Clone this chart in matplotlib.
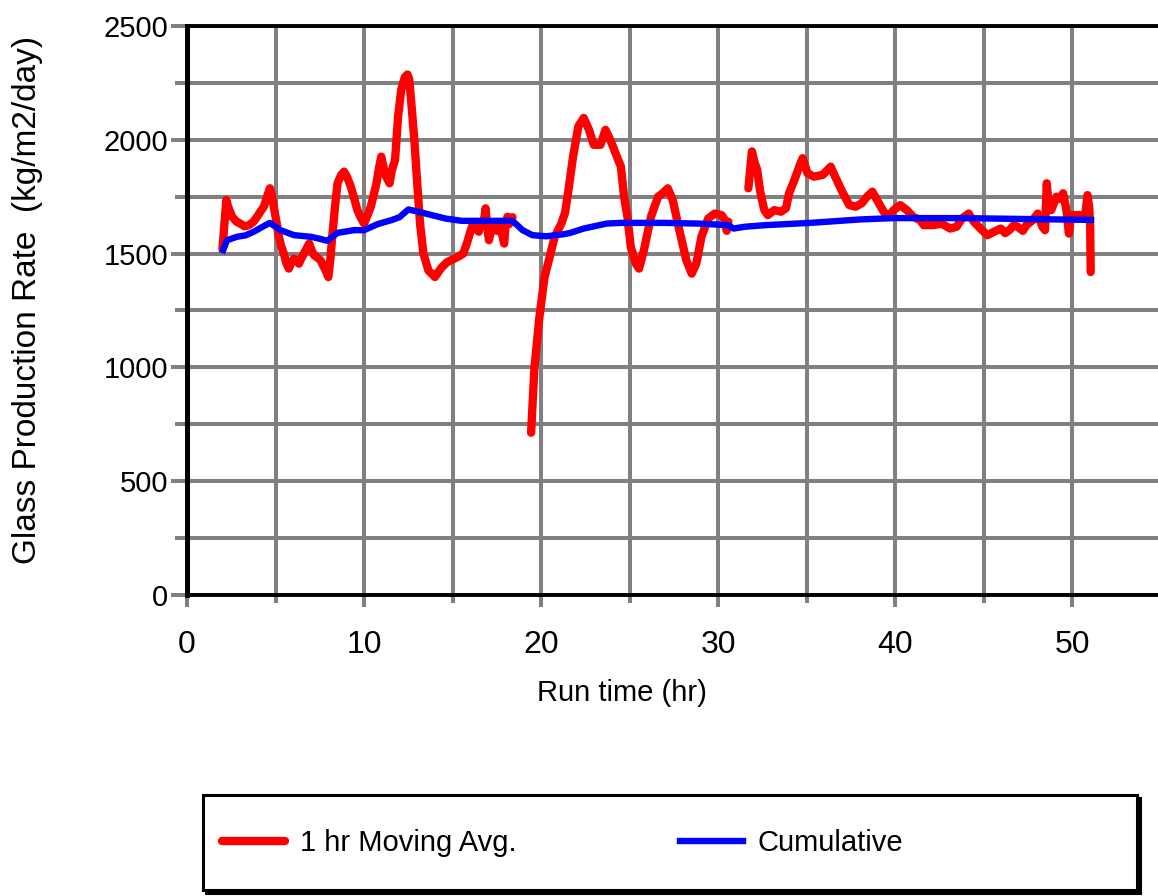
import numpy as np
import matplotlib
matplotlib.use("Agg")
import matplotlib.pyplot as plt
from matplotlib.patches import Rectangle
from matplotlib.ticker import MultipleLocator

plt.rcParams['font.family'] = ['Liberation Sans', 'DejaVu Sans']

# 1 hr moving average of glass production rate (NaN marks data gaps)
avg_time = [
    2.00, 2.08, 2.22, 2.35, 2.55, 2.8, 3.0, 3.25, 3.5, 3.75, 3.96, 4.15, 4.34, 4.5,
    4.68, 4.8, 4.9, 5.05, 5.19, 5.33, 5.47, 5.6, 5.75, 5.9, 6.04, 6.18, 6.32, 6.45,
    6.6, 6.75, 6.9, 7.05, 7.17, 7.35, 7.55, 7.7, 7.83, 7.98, 8.1, 8.2, 8.35, 8.5,
    8.7, 8.87, 9.05, 9.25, 9.45, 9.62, 9.8, 10.0, 10.2, 10.38, 10.55, 10.7, 10.85,
    10.97, 11.1, 11.16, 11.3, 11.44, 11.55, 11.63, 11.75, 11.92, 12.1, 12.3, 12.45,
    12.55, 12.7, 12.85, 13.0, 13.16, 13.35, 13.63, 14.0, 14.2, 14.4, 14.7, 15.1,
    15.4, 15.6, 15.8, 16.0, 16.15, 16.3, 16.48, 16.6, 16.67, 16.8, 16.86, 16.95,
    17.05, 17.2, 17.34, 17.5, 17.62, 17.75, 17.91, 18.0, 18.1, 18.2, 18.29, 18.38,
    18.9,
    19.43, 19.62, 19.9, 20.19, 20.48, 20.76, 21.14, 21.35, 21.54, 21.8, 22.1, 22.4,
    22.7, 22.97, 23.35, 23.63, 23.9, 24.2, 24.5, 24.68, 24.87, 25.06, 25.34, 25.53,
    25.8, 26.2, 26.6, 26.86, 27.15, 27.43, 27.8, 28.2, 28.5, 28.76, 29.05, 29.43,
    29.8, 30.19, 30.35, 30.48, 30.57,
    31.1,
    31.7, 31.9, 32.05, 32.2, 32.35, 32.47, 32.6, 32.8, 33.16, 33.54, 33.82, 34.0,
    34.3, 34.57, 34.76, 35.04, 35.4, 35.9, 36.35, 36.6, 37.0, 37.4, 37.75, 38.1,
    38.4, 38.7, 38.97, 39.34, 39.6, 39.9, 40.28, 40.65, 41.0, 41.4, 41.6, 42.15,
    42.6, 43.1, 43.46, 43.76, 44.14, 44.43, 44.8, 45.2, 45.57, 45.95, 46.2, 46.43,
    46.7, 46.9, 47.2, 47.4, 47.76, 48.04, 48.3, 48.45, 48.55, 48.65, 48.8, 49.1,
    49.3, 49.47, 49.66, 49.8, 49.9, 50.04, 50.4, 50.7, 50.85, 50.95, 51.0, 51.03,
]
avg_rate = [
    1520, 1600, 1735, 1700, 1662, 1640, 1632, 1620, 1625, 1640, 1662, 1685, 1706, 1745,
    1787, 1755, 1706, 1640, 1574, 1530, 1500, 1460, 1434, 1462, 1478, 1468, 1456, 1478,
    1500, 1522, 1544, 1512, 1493, 1483, 1470, 1445, 1426, 1397, 1480, 1574, 1700, 1809,
    1845, 1860, 1835, 1794, 1740, 1691, 1660, 1632, 1670, 1706, 1760, 1809, 1880,
    1926, 1880, 1853, 1830, 1809, 1860, 1882, 1912, 2103, 2221, 2275, 2287,
    2265, 2132, 1985, 1809, 1632, 1500, 1426, 1397, 1420, 1441, 1463, 1478,
    1490, 1500, 1544, 1596, 1632, 1610, 1596, 1640, 1632, 1660, 1699, 1620,
    1559, 1610, 1618, 1600, 1632, 1600, 1544, 1640, 1662, 1630, 1647, 1660,
    np.nan,
    713, 1000, 1221, 1397, 1485, 1574, 1632, 1680, 1779, 1926, 2059, 2096,
    2044, 1978, 1978, 2044, 2000, 1941, 1882, 1750, 1662, 1529, 1456, 1434,
    1515, 1662, 1750, 1765, 1787, 1735, 1603, 1470, 1412, 1456, 1574, 1654,
    1676, 1669, 1650, 1600, 1640,
    np.nan,
    1787, 1949, 1900, 1868, 1780, 1735, 1691, 1669, 1691, 1684, 1699, 1765,
    1824, 1882, 1919, 1853, 1838, 1846, 1882, 1838, 1772, 1713, 1706, 1721,
    1750, 1772, 1735, 1684, 1662, 1691, 1713, 1691, 1662, 1647, 1625, 1625,
    1632, 1610, 1618, 1654, 1676, 1640, 1610, 1581, 1596, 1610, 1590, 1603,
    1625, 1618, 1600, 1625, 1647, 1676, 1618, 1603, 1809, 1720, 1691, 1750,
    1740, 1765, 1691, 1588, 1660, 1669, 1669, 1654, 1757, 1700, 1618, 1419,
]

# Cumulative glass production rate
cum_time = [
    2.04, 2.26, 2.83, 3.3, 3.77, 4.2, 4.68, 5.28, 6.04, 6.98, 7.5, 7.92, 8.5, 9.43,
    10.0, 10.75, 11.54, 12.0, 12.5, 13.06, 14.6, 15.5, 18.38, 18.95, 19.5, 20.3,
    21.25, 21.6, 22.4, 23.7, 24.5, 26.96, 28.86, 30.57, 30.86, 31.5, 32.66, 35.2,
    38.0, 39.9, 43.65, 51.05,
]
cum_rate = [
    1515, 1559, 1574, 1580, 1596, 1615, 1635, 1603, 1581, 1574, 1565, 1556, 1591, 1603,
    1603, 1629, 1647, 1660, 1694, 1684, 1654, 1644, 1644, 1603, 1581, 1576,
    1585, 1590, 1610, 1632, 1635, 1635, 1632, 1625, 1610, 1618, 1625, 1635,
    1650, 1656, 1656, 1648,
]

x_ticks = [0, 10, 20, 30, 40, 50]
y_ticks = [0, 500, 1000, 1500, 2000, 2500]
series_labels = ["1 hr Moving Avg.", "Cumulative"]

W, H = 1158, 896
fig = plt.figure(figsize=(W / 100, H / 100), dpi=100)
ax = fig.add_axes([187 / W, (H - 595) / H, (1161 - 187) / W, (595 - 26) / H])

grid_gray = "#808080"
line_avg, = ax.plot(avg_time, avg_rate, color="#ff0000", lw=6.0,
                    solid_joinstyle="round", solid_capstyle="round", zorder=3,
                    label=series_labels[0])
line_cum, = ax.plot(cum_time, cum_rate, color="#0000ff", lw=4.6,
                    solid_joinstyle="round", zorder=4, label=series_labels[1])

ax.set_xlim(0, 55)
ax.set_ylim(0, 2500)
ax.set_xticks(x_ticks)
ax.set_yticks(y_ticks)
ax.xaxis.set_minor_locator(MultipleLocator(5))
ax.yaxis.set_minor_locator(MultipleLocator(250))
ax.set_axisbelow(True)
ax.grid(True, which="both", color=grid_gray, lw=2.9)

ax.tick_params(axis="y", which="major", direction="out", length=11.5, width=2.9,
               color=grid_gray, pad=2, labelsize=21)
ax.tick_params(axis="y", which="minor", direction="out", length=8.5, width=2.9,
               color=grid_gray)
ax.tick_params(axis="x", which="major", direction="out", length=8.5, width=2.9,
               color=grid_gray, pad=17, labelsize=23)
ax.tick_params(axis="x", which="minor", direction="out", length=6, width=2.9,
               color=grid_gray)

ax.spines["left"].set_linewidth(3.6)
for side in ("top", "bottom"):
    ax.spines[side].set_linewidth(2.8)
ax.spines["right"].set_visible(False)

ax.set_xlabel("Run time (hr)", fontsize=21)
ax.xaxis.set_label_coords((622 - 187) / 974, (595 - 693) / 569)
ax.xaxis.label.set_va("center")

fig.text(28 / W, 1 - 300 / H, "Glass Production Rate  (kg/m2/day)", rotation=90,
         ha="center", va="center", fontsize=24)

# Legend box with a solid drop shadow
box_l, box_r, box_t, box_b = 203, 1137, 795, 890
shadow = Rectangle(((box_l + 3) / W, 1 - (box_b + 3) / H), (box_r - box_l) / W,
                   (box_b - box_t) / H, transform=fig.transFigure,
                   facecolor="black", edgecolor="black", lw=2.2)
frame = Rectangle((box_l / W, 1 - box_b / H), (box_r - box_l) / W,
                  (box_b - box_t) / H, transform=fig.transFigure,
                  facecolor="white", edgecolor="black", lw=2.2)
fig.add_artist(shadow)
fig.add_artist(frame)

fig.legend(handles=[line_avg, line_cum], labels=series_labels, ncol=2,
           loc="center left", bbox_to_anchor=(222 / W, 1 - 843 / H),
           frameon=False, borderpad=0, borderaxespad=0, fontsize=21,
           handlelength=2.16, handletextpad=0.51, columnspacing=5.6)

fig.savefig("out.png", dpi=100)
